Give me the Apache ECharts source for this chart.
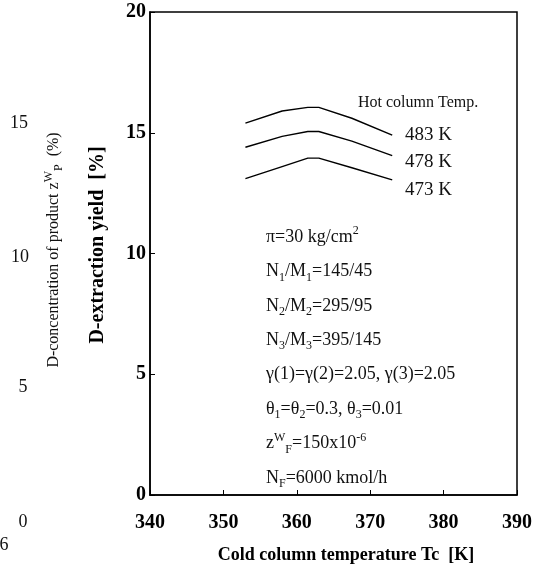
<!DOCTYPE html>
<html>
<head>
<meta charset="utf-8">
<script src="https://cdn.jsdelivr.net/npm/echarts@6/dist/echarts.min.js"></script>
<style>html,body{margin:0;padding:0;background:#fff;}#c{width:548px;height:572px;}</style>
</head>
<body>
<div id="c"></div>
<script>
// ---- data ----
const temps = [353, 358, 361.5, 363, 367.5, 373];
const y483 = [15.4, 15.9, 16.05, 16.05, 15.6, 14.9];
const y478 = [14.4, 14.85, 15.05, 15.05, 14.65, 14.05];
const y473 = [13.1, 13.6, 13.95, 13.95, 13.55, 13.05];
const seriesNames = ['483 K', '478 K', '473 K'];
const xTicks = [340, 350, 360, 370, 380, 390];
const yTicks = [0, 5, 10, 15, 20];
const ghostTicks = ['15', '10', '5', '0', '6'];
const notes = [
  'π=30 kg/cm{sup|2}',
  'N{sub|1}/M{sub|1}=145/45',
  'N{sub|2}/M{sub|2}=295/95',
  'N{sub|3}/M{sub|3}=395/145',
  'γ(1)=γ(2)=2.05, γ(3)=2.05',
  'θ{sub|1}=θ{sub|2}=0.3, θ{sub|3}=0.01',
  'z{sup|W}{sub|F}=150x10{sup|-6}',
  'N{sub|F}=6000 kmol/h'
];

const FF = '"Liberation Serif", "Times New Roman", serif';
const chart = echarts.init(document.getElementById('c'), null, {renderer: 'canvas'});
const mk = arr => temps.map((t, i) => [t, arr[i]]);
const lineStyle = {color: '#000', width: 1.4};
const rich = {
  sub: {fontSize: 12, lineHeight: 12, verticalAlign: 'bottom', fontFamily: FF, fill: '#111'},
  sup: {fontSize: 12, lineHeight: 12, verticalAlign: 'top', fontFamily: FF, fill: '#111'}
};
const graphics = [];
notes.forEach((t, i) => {
  graphics.push({type: 'text', x: 266, y: 237 + i * 34.4, style: {
    text: t, rich: rich, font: '18px ' + FF, fill: '#111', lineHeight: 24,
    textAlign: 'left', textVerticalAlign: 'middle'}});
});
graphics.push({type: 'text', x: 358, y: 103, style: {text: 'Hot column Temp.', font: '16px ' + FF, fill: '#111', textAlign: 'left', textVerticalAlign: 'middle'}});
const labY = [135, 162, 190];
seriesNames.forEach((n, i) => {
  graphics.push({type: 'text', x: 405, y: labY[i], style: {text: n, font: '19px ' + FF, fill: '#111', textAlign: 'left', textVerticalAlign: 'middle'}});
});
// axis titles
graphics.push({type: 'text', x: 346, y: 555, style: {text: 'Cold column temperature Tc  [K]', font: 'bold 18px ' + FF, fill: '#000', textAlign: 'center', textVerticalAlign: 'middle'}});
graphics.push({type: 'text', x: 98, y: 245, rotation: Math.PI / 2, style: {text: 'D-extraction yield  [%]', font: 'bold 20px ' + FF, fill: '#000', textAlign: 'center', textVerticalAlign: 'middle'}});
graphics.push({type: 'text', x: 54, y: 250, rotation: Math.PI / 2, style: {text: 'D-concentration of product z{sup|W}{sub|P}  (%)', rich: {
  sub: {fontSize: 12, lineHeight: 12, verticalAlign: 'bottom', fontFamily: FF, fill: '#111'},
  sup: {fontSize: 12, lineHeight: 12, verticalAlign: 'top', fontFamily: FF, fill: '#111'}
}, font: '16px ' + FF, fill: '#111', lineHeight: 22, textAlign: 'center', textVerticalAlign: 'middle'}});
// ghost tick labels of a second (cropped) figure
const ghostPos = [[19, 123], [20, 257], [23, 387], [23, 522], [4, 545]];
ghostTicks.forEach((t, i) => {
  graphics.push({type: 'text', x: ghostPos[i][0], y: ghostPos[i][1], style: {text: t, font: '18px ' + FF, fill: '#111', textAlign: 'center', textVerticalAlign: 'middle'}});
});

chart.setOption({
  animation: false,
  backgroundColor: '#fff',
  grid: {left: 150, right: 31, top: 12, bottom: 77, show: true, borderColor: '#000', borderWidth: 1.5, backgroundColor: 'transparent'},
  xAxis: {
    type: 'value', min: xTicks[0], max: xTicks[xTicks.length - 1], interval: 10,
    axisLine: {lineStyle: {color: '#000', width: 1.5}},
    axisTick: {inside: true, length: 5, lineStyle: {color: '#000', width: 1}},
    splitLine: {show: false},
    axisLabel: {color: '#000', fontSize: 20, fontFamily: FF, fontWeight: 'bold', margin: 18}
  },
  yAxis: {
    type: 'value', min: yTicks[0], max: yTicks[yTicks.length - 1], interval: 5,
    axisLine: {lineStyle: {color: '#000', width: 1.5}},
    axisTick: {inside: true, length: 5, lineStyle: {color: '#000', width: 1}},
    splitLine: {show: false},
    axisLabel: {color: '#000', fontSize: 20, fontFamily: FF, fontWeight: 'bold', margin: 4}
  },
  series: [
    {name: seriesNames[0], type: 'line', data: mk(y483), symbol: 'none', lineStyle: lineStyle},
    {name: seriesNames[1], type: 'line', data: mk(y478), symbol: 'none', lineStyle: lineStyle},
    {name: seriesNames[2], type: 'line', data: mk(y473), symbol: 'none', lineStyle: lineStyle}
  ],
  graphic: graphics
});
</script>
</body>
</html>
